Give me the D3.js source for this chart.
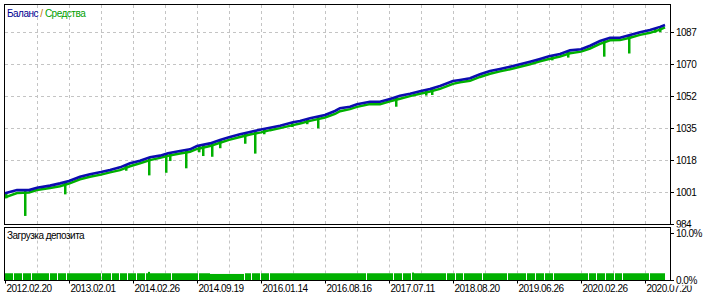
<!DOCTYPE html>
<html>
<head>
<meta charset="utf-8">
<script src="https://cdn.jsdelivr.net/npm/d3@7"></script>
<style>
html, body { margin: 0; padding: 0; background: #fff; }
svg { display: block; }
text { font-family: "Liberation Sans", Arial, sans-serif; font-size: 10px; letter-spacing: -0.5px; fill: #000; }
</style>
</head>
<body>
<svg id="chart" width="715" height="297"></svg>
<script>
// trade number -> balance / equity
var trades  = [1, 13, 25, 33, 46, 56, 65, 76, 86, 97, 106, 116, 126, 136, 146, 156, 164, 176, 186, 193,
               206, 216, 225, 236, 246, 257, 266, 276, 289, 296, 306, 321, 331, 336, 346, 353, 366, 376, 386, 396,
               406, 417, 426, 436, 449, 456, 466, 476, 486, 496, 506, 516, 526, 536, 545, 556, 566, 577, 586, 596,
               606, 616, 626, 636, 646, 656, 661];
var balance = [1000.8, 1002.5, 1002.5, 1003.8, 1004.9, 1006.1, 1007.4, 1009.7, 1011.0, 1012.2, 1013.3, 1014.7, 1016.9, 1018.3, 1020.1, 1021.0, 1022.3, 1023.5, 1024.4, 1026.2,
               1027.6, 1029.4, 1030.9, 1032.5, 1033.7, 1035.0, 1036.0, 1037.1, 1038.9, 1039.6, 1041.1, 1042.9, 1045.0, 1046.5, 1047.3, 1048.6, 1050.0, 1050.0, 1051.5, 1053.2,
               1054.3, 1055.8, 1056.8, 1058.4, 1061.1, 1061.7, 1062.6, 1064.7, 1066.5, 1067.6, 1068.8, 1070.1, 1071.5, 1073.0, 1074.4, 1075.6, 1077.6, 1078.2, 1080.1, 1082.6,
               1084.4, 1084.4, 1085.9, 1087.3, 1088.5, 1090.2, 1091.2];
var equity  = [998.6, 1000.9, 1001.2, 1002.5, 1003.6, 1004.6, 1006.0, 1008.3, 1009.7, 1010.8, 1012.0, 1013.2, 1015.3, 1016.9, 1018.6, 1019.8, 1020.9, 1022.2, 1023.1, 1024.6,
               1026.2, 1027.9, 1029.5, 1031.0, 1032.4, 1033.5, 1034.7, 1035.8, 1037.4, 1038.3, 1039.7, 1041.5, 1043.4, 1044.9, 1046.0, 1047.2, 1048.7, 1048.6, 1050.2, 1051.6,
               1053.0, 1054.4, 1055.5, 1056.9, 1059.6, 1060.4, 1061.2, 1063.3, 1065.0, 1066.3, 1067.4, 1068.8, 1070.1, 1071.7, 1072.9, 1074.3, 1076.0, 1076.9, 1078.6, 1081.1,
               1083.0, 1083.1, 1084.4, 1085.9, 1087.0, 1088.7, 1089.9];

// equity drawdowns inside trades
var dipTrades = [2, 21, 61, 122, 145, 162, 166, 182, 195, 199, 208, 216, 241, 251, 260, 288, 303, 314, 392, 422, 428, 548, 564, 600, 625, 651, 656];
var dipLows   = [998.1, 988.6, 1000.2, 1012.9, 1010.4, 1011.8, 1018.1, 1014.2, 1022.8, 1020.8, 1020.4, 1025.0, 1027.4, 1022.1, 1032.5, 1036.4, 1037.9, 1035.7, 1047.3, 1053.3, 1053.6, 1072.2, 1073.7, 1074.2, 1075.9, 1087.1, 1087.4];

// deposit load, %
var loadFrom = [1, 10, 19, 28, 46, 54, 63, 98, 108, 116, 124, 133, 142, 144, 168, 195, 206, 241, 248, 257, 266, 363, 390, 399, 408, 408, 443, 452, 460, 479, 504, 523, 532, 541, 550, 585, 593, 602, 611, 619, 646];
var loadTo   = [9, 18, 27, 45, 53, 62, 97, 107, 115, 123, 132, 141, 167, 146, 194, 206, 240, 247, 256, 265, 362, 389, 398, 407, 442, 410, 451, 459, 478, 503, 522, 531, 540, 549, 584, 592, 601, 610, 618, 645, 661];
var loadPct  = [1.45, 1.45, 1.45, 1.45, 1.45, 1.45, 1.45, 1.45, 1.45, 1.45, 1.45, 1.45, 1.45, 1.75, 1.45, 1.45, 1.3, 1.45, 1.45, 1.45, 1.45, 1.45, 1.45, 1.45, 1.45, 1.6, 1.45, 1.45, 1.45, 1.45, 1.45, 1.45, 1.45, 1.45, 1.45, 1.45, 1.45, 1.45, 1.45, 1.45, 1.45];

var yTicks = [984, 1001.2, 1018.4, 1035.6, 1052.8, 1070, 1087.2];
var yTickLabels = ["984", "1001", "1018", "1035", "1052", "1070", "1087"];
var dateTicks = [1, 65, 129, 193, 257, 321, 385, 449, 513, 577, 641];
var dateLabels = ["2012.02.20", "2013.02.01", "2014.02.26", "2014.09.19", "2016.01.14", "2016.08.16",
                  "2017.07.11", "2018.08.20", "2019.06.26", "2020.02.26", "2020.07.20"];
var loadTicks = [10, 0];
var loadTickLabels = ["10.0%", "0.0%"];

var balColor = "#0c0cb0", eqColor = "#00b000", gridColor = "#c4c4c4";

var svg = d3.select("#chart");
var left = 4, right = 670, mainTop = 4, mainBottom = 224.5, subTop = 227.5, subBottom = 280.5;

var x = d3.scaleLinear().domain([0, 666]).range([left, right]);
var y = d3.scaleLinear().domain([984, 1102.5]).range([mainBottom, mainTop]);
var yl = d3.scaleLinear().domain([0, 10]).range([280, 233.5]);

// grid
var grid = svg.append("g")
	.attr("stroke", gridColor)
	.attr("stroke-dasharray", "3,3");
d3.range(33, 666, 32).forEach(function (t) {
	var gx = Math.round(x(t)) + 0.5;
	grid.append("line").attr("x1", gx).attr("x2", gx).attr("y1", mainTop + 1).attr("y2", mainBottom);
	grid.append("line").attr("x1", gx).attr("x2", gx).attr("y1", subTop + 1).attr("y2", subBottom);
});
yTicks.slice(1).forEach(function (v) {
	var gy = Math.round(y(v) - 0.5) + 0.5;
	grid.append("line").attr("x1", left + 1).attr("x2", right).attr("y1", gy).attr("y2", gy);
});

// equity dips hang from the balance line
var balanceAt = d3.scaleLinear().domain(trades).range(balance).clamp(true);

svg.append("g").selectAll("rect")
	.data(dipTrades)
	.enter().append("rect")
	.attr("x", function (d) { return x(d) - 1; })
	.attr("width", 2.5)
	.attr("y", function (d) { return y(balanceAt(d)); })
	.attr("height", function (d, i) { return y(dipLows[i]) - y(balanceAt(d)); })
	.attr("fill", eqColor);

var line = d3.line()
	.x(function (d) { return x(d[0]); })
	.y(function (d) { return y(d[1]); });

svg.append("path")
	.datum(trades.map(function (t, i) { return [t, equity[i]]; }))
	.attr("d", line)
	.attr("fill", "none")
	.attr("stroke", eqColor)
	.attr("stroke-width", 2.5);

svg.append("path")
	.datum(trades.map(function (t, i) { return [t, balance[i]]; }))
	.attr("d", line)
	.attr("fill", "none")
	.attr("stroke", balColor)
	.attr("stroke-width", 2.6);

// deposit load bars
svg.append("g").selectAll("rect")
	.data(loadFrom)
	.enter().append("rect")
	.attr("x", function (d) { return x(d); })
	.attr("width", function (d, i) { return x(loadTo[i]) - x(d); })
	.attr("y", function (d, i) { return yl(loadPct[i]); })
	.attr("height", function (d, i) { return yl(0) - yl(loadPct[i]); })
	.attr("fill", eqColor);

// frames
svg.append("rect").attr("x", left + 0.5).attr("y", mainTop + 0.5)
	.attr("width", right - left).attr("height", mainBottom - mainTop - 0.5)
	.attr("fill", "none").attr("stroke", "#000");
svg.append("rect").attr("x", left + 0.5).attr("y", subTop)
	.attr("width", right - left).attr("height", subBottom - subTop)
	.attr("fill", "none").attr("stroke", "#000");

// right axis (balance)
yTicks.forEach(function (v, i) {
	var ty = Math.round(y(v) - 0.5) + 0.5;
	svg.append("line").attr("x1", right + 0.5).attr("x2", right + 4).attr("y1", ty).attr("y2", ty).attr("stroke", "#000");
	svg.append("text").attr("x", 676).attr("y", ty + 3.8).text(yTickLabels[i]);
});

// bottom axis (dates)
dateTicks.forEach(function (t, i) {
	var tx = Math.round(x(t)) + 0.5;
	svg.append("line").attr("x1", tx).attr("x2", tx).attr("y1", subBottom).attr("y2", subBottom + 3).attr("stroke", "#000");
	svg.append("text").attr("x", tx + 1).attr("y", 291.5).text(dateLabels[i]);
});

// right axis (deposit load) drawn over the labels behind it
svg.append("rect").attr("x", right + 1.5).attr("y", subTop).attr("width", 715 - right).attr("height", 58).attr("fill", "#fff");
loadTicks.forEach(function (v, i) {
	var ty = Math.round(yl(v) - 0.5) + 0.5;
	svg.append("line").attr("x1", right + 0.5).attr("x2", right + 4).attr("y1", ty).attr("y2", ty).attr("stroke", "#000");
	svg.append("text").attr("x", 676).attr("y", ty + 3.8).text(loadTickLabels[i]);
});

// titles
var title = svg.append("text").attr("x", 7).attr("y", 16.5);
title.append("tspan").attr("fill", "#000090").text("Баланс");
title.append("tspan").attr("fill", "#c07000").text(" / ");
title.append("tspan").attr("fill", "#00a000").text("Средства");

svg.append("text").attr("x", 7).attr("y", 239).text("Загрузка депозита");
</script>
</body>
</html>
